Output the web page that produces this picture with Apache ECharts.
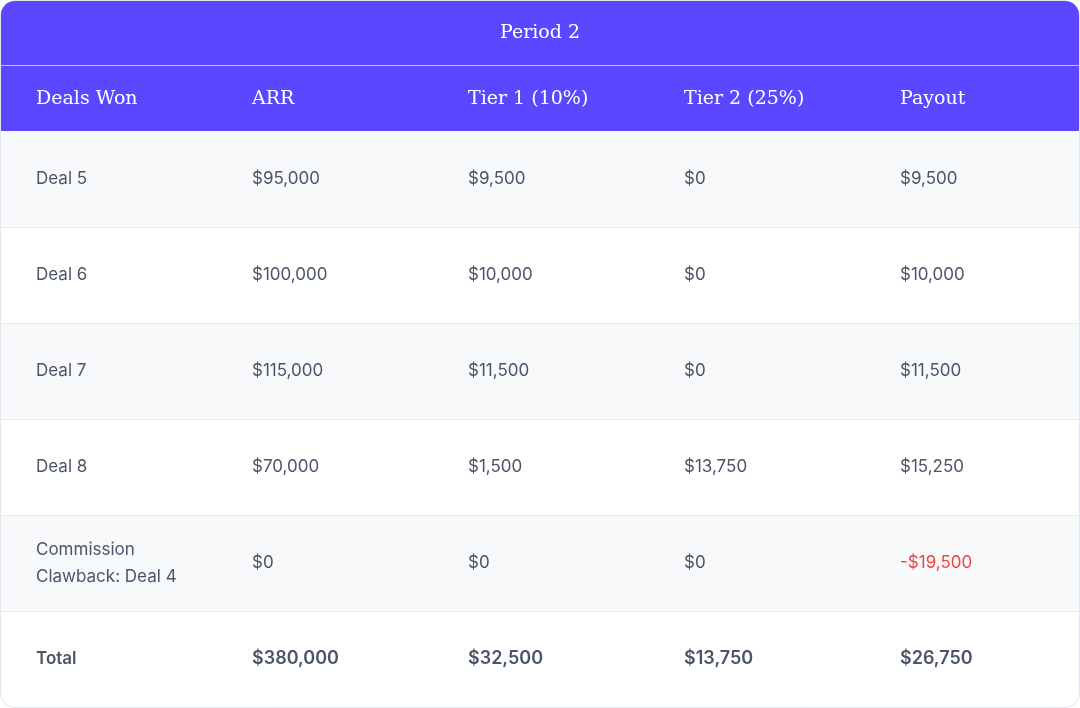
<!DOCTYPE html>
<html>
<head>
    <meta charset="utf-8">
    <script src="https://cdn.jsdelivr.net/npm/echarts@6/dist/echarts.min.js"></script>
    <style>html,body{margin:0;padding:0;background:#fff;}</style>
</head>
<body>
    <div id="main" style="width:1080px;height:708px;"></div>
    <script type="text/javascript">
        var title = 'Period 2';
        var columns = ['Deals Won', 'ARR', 'Tier 1 (10%)', 'Tier 2 (25%)', 'Payout'];
        var deals = ['Deal 5', 'Deal 6', 'Deal 7', 'Deal 8', 'Commission\nClawback: Deal 4'];
        var arr = ['$95,000', '$100,000', '$115,000', '$70,000', '$0'];
        var tier1 = ['$9,500', '$10,000', '$11,500', '$1,500', '$0'];
        var tier2 = ['$0', '$0', '$0', '$13,750', '$0'];
        var payout = ['$9,500', '$10,000', '$11,500', '$15,250', '-$19,500'];
        var totals = ['Total', '$380,000', '$32,500', '$13,750', '$26,750'];

        var W = 1080, H = 708;
        var colX = [36, 252, 468, 684, 900];
        var rowTop = 131, rowH = 96;
        var purple = '#5b47ff';
        var textColor = '#4a5568';
        var headFont = '"DejaVu Serif", "Liberation Serif", serif';
        var bodyFont = 'Inter, "Noto Sans", sans-serif';

        var els = [];
        // card with purple top
        els.push({type: 'rect', shape: {x: 0.5, y: 0.5, width: W - 1, height: H - 1, r: 14},
            style: {fill: '#fff', stroke: '#e3e6ec', lineWidth: 1}});
        els.push({type: 'rect', shape: {x: 1, y: 1, width: W - 2, height: 130, r: [14, 14, 0, 0]},
            style: {fill: purple}});
        els.push({type: 'line', shape: {x1: 1, y1: 65.5, x2: W - 1, y2: 65.5},
            style: {stroke: '#c9c2ff', lineWidth: 1}});
        els.push({type: 'text', x: W / 2, y: 33, style: {text: title, fill: '#fff',
            font: '500 19px ' + headFont, align: 'center', verticalAlign: 'middle'}});
        columns.forEach(function (c, i) {
            els.push({type: 'text', x: colX[i], y: 99, style: {text: c, fill: '#fff',
                font: '500 19px ' + headFont, verticalAlign: 'middle'}});
        });

        var rows = deals.map(function (d, i) {
            return [d, arr[i], tier1[i], tier2[i], payout[i]];
        });
        rows.push(totals);

        rows.forEach(function (r, i) {
            var y = rowTop + i * rowH;
            var isLast = i === rows.length - 1;
            els.push({type: 'rect', shape: {x: 1, y: y, width: W - 2, height: isLast ? rowH - 2 : rowH,
                r: isLast ? [0, 0, 14, 14] : 0},
                style: {fill: i % 2 === 0 && !isLast ? '#f8f9fb' : '#fff'}});
            if (i > 0) {
                els.push({type: 'line', shape: {x1: 1, y1: y + 0.5, x2: W - 1, y2: y + 0.5},
                    style: {stroke: '#e8ebf0', lineWidth: 1}});
            }
            r.forEach(function (v, j) {
                var neg = v.charAt(0) === '-';
                els.push({type: 'text', x: colX[j], y: y + rowH / 2, style: {text: v,
                    fill: neg ? '#ef4444' : textColor,
                    font: (isLast ? '600 ' : '400 ') + (isLast && j > 0 ? '18px ' : '17px ') + bodyFont,
                    lineHeight: 27, verticalAlign: 'middle'}});
            });
        });

        var myChart = echarts.init(document.getElementById('main'));
        myChart.setOption({animation: false, graphic: {elements: els}});
    </script>
</body>
</html>
